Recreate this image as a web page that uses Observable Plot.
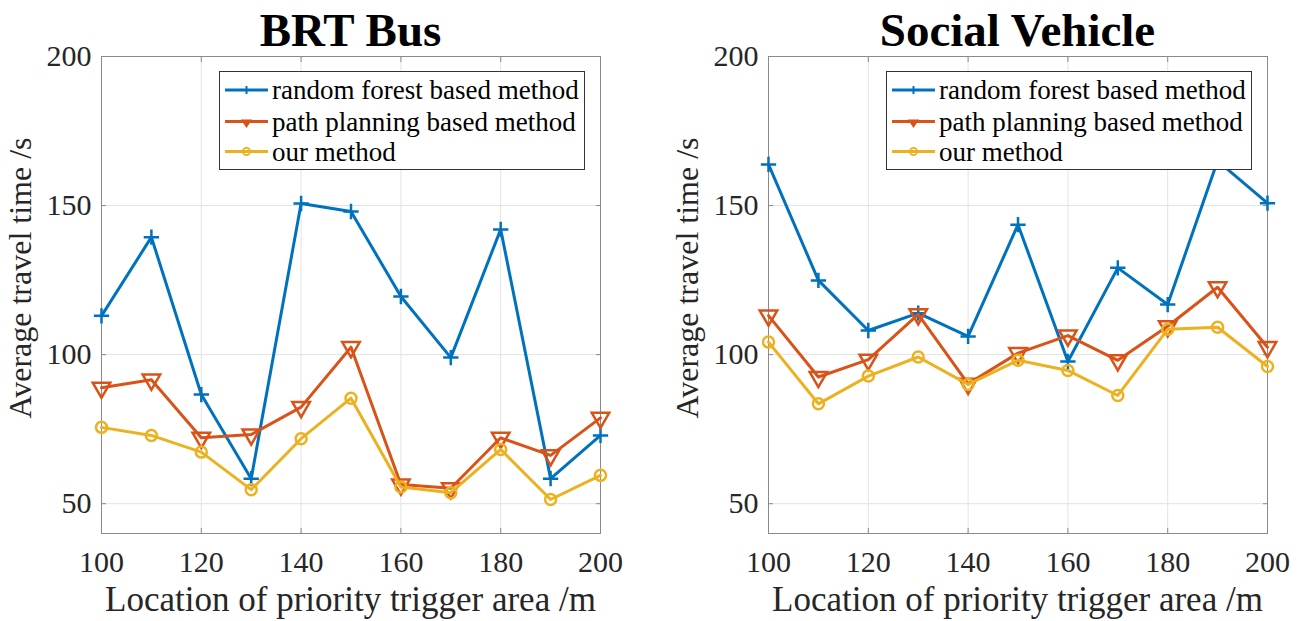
<!DOCTYPE html>
<html>
<head>
<meta charset="utf-8">
<script src="https://cdn.jsdelivr.net/npm/d3@7"></script>
<script src="https://cdn.jsdelivr.net/npm/@observablehq/plot@0.6"></script>
<style>
  body { margin: 0; background: #fff; }
  #wrap { position: relative; width: 1299px; height: 621px; overflow: hidden; background: #fff; }
  .panel { position: absolute; top: 0; }
  #overlay { position: absolute; left: 0; top: 0; pointer-events: none; }
  svg text { font-family: "Liberation Serif", "Times New Roman", serif; }
</style>
</head>
<body>
<div id="wrap"></div>
<script>
// ---- data ----
const locations = [100, 110, 120, 130, 140, 150, 160, 170, 180, 190, 200];
const methods = ["random forest based method", "path planning based method", "our method"];
const brtRandomForest   = [113.0, 139.4, 86.6, 58.4, 150.7, 148.0, 119.5, 99.0, 142.0, 58.4, 72.9];
const brtPathPlanning   = [88.9, 91.6, 72.1, 73.2, 82.4, 102.5, 56.4, 55.2, 72.1, 66.2, 78.8];
const brtOurMethod      = [75.6, 72.9, 67.3, 54.7, 71.8, 85.4, 55.6, 53.7, 68.2, 51.4, 59.5];
const socialRandomForest = [163.8, 124.9, 108.1, 113.9, 106.1, 143.6, 97.7, 129.1, 116.8, 165.0, 150.8];
const socialPathPlanning = [113.1, 92.5, 98.3, 113.5, 90.2, 100.5, 106.4, 98.1, 109.5, 122.6, 102.5];
const socialOurMethod    = [104.2, 83.5, 92.8, 99.2, 90.0, 98.1, 94.7, 86.3, 108.5, 109.2, 96.0];
const xTicks = [100, 120, 140, 160, 180, 200];
const yTicks = [50, 100, 150, 200];
const panelTitles = ["BRT Bus", "Social Vehicle"];
const xLabel = "Location of priority trigger area /m";
const yLabel = "Average travel time /s";

const colors = ["#0072BD", "#D95319", "#EDB120"];
const symbols = ["plus", "triangle", "circle"];

const H = 621, MT = 56, MB = 88;
const panels = [
  {left: 0, width: 650, marginLeft: 101, marginRight: 50, series: [brtRandomForest, brtPathPlanning, brtOurMethod]},
  {left: 650, width: 649, marginLeft: 118, marginRight: 32, series: [socialRandomForest, socialPathPlanning, socialOurMethod]}
];

const wrap = document.getElementById("wrap");
const frameGray = "#8a8a8a";
const fontFam = "Liberation Serif, Times New Roman, serif";

panels.forEach((p) => {
  const seriesMarks = [];
  p.series.forEach((vals, i) => {
    const rows = locations.map((x, j) => ({x, y: vals[j]}));
    seriesMarks.push(Plot.line(rows, {x: "x", y: "y", stroke: colors[i], strokeWidth: 3}));
    seriesMarks.push(Plot.dot(rows, {
      x: "x", y: "y", symbol: symbols[i], stroke: colors[i], fill: "none",
      strokeWidth: i === 0 ? 2.5 : 2.5,
      r: i === 0 ? 5 : (i === 1 ? 6.5 : 5.5),
      rotate: i === 1 ? 180 : 0
    }));
  });
  const chart = Plot.plot({
    width: p.width, height: H,
    marginLeft: p.marginLeft, marginRight: p.marginRight, marginTop: MT, marginBottom: MB,
    x: {domain: [100, 200]},
    y: {domain: [40, 200]},
    style: {fontFamily: fontFam, fontSize: "30px", color: "#262626", background: "#fff", overflow: "visible"},
    marks: [
      Plot.gridX(xTicks, {stroke: "#e3e3e3", strokeOpacity: 1}),
      Plot.gridY(yTicks, {stroke: "#e3e3e3", strokeOpacity: 1}),
      Plot.axisX(xTicks, {anchor: "bottom", tickSize: -5, tickFormat: () => "", label: null, stroke: frameGray}),
      Plot.axisX(xTicks, {anchor: "top", tickSize: -5, tickFormat: () => "", label: null, stroke: frameGray}),
      Plot.axisY(yTicks, {anchor: "left", tickSize: -5, tickFormat: () => "", label: null, stroke: frameGray}),
      Plot.axisY(yTicks, {anchor: "right", tickSize: -5, tickFormat: () => "", label: null, stroke: frameGray}),
      Plot.axisX(xTicks, {anchor: "bottom", tickSize: 0, tickPadding: 17, label: null, fill: "#262626", fontSize: 30}),
      Plot.axisY(yTicks, {anchor: "left", tickSize: 0, tickPadding: 10, label: null, fill: "#262626", fontSize: 30}),
      Plot.frame({stroke: frameGray, strokeWidth: 1}),
      ...seriesMarks
    ]
  });
  chart.classList.add("panel");
  chart.style.left = p.left + "px";
  wrap.appendChild(chart);
});

// ---- overlay: titles, axis labels, legends ----
const ov = d3.select(wrap).append("svg").attr("id", "overlay").attr("width", 1299).attr("height", H);

panels.forEach((p, k) => {
  const fx0 = p.left + p.marginLeft, fx1 = p.left + p.width - p.marginRight;
  const cx = (fx0 + fx1) / 2;
  ov.append("text").attr("x", cx).attr("y", 46).attr("text-anchor", "middle")
    .attr("font-weight", "bold").attr("font-size", 47).attr("fill", "#000").text(panelTitles[k]);
  ov.append("text").attr("x", cx).attr("y", 611).attr("text-anchor", "middle")
    .attr("font-size", 35).attr("fill", "#262626").text(xLabel);
  ov.append("text").attr("transform", `translate(${fx0 - 70},278) rotate(-90)`).attr("text-anchor", "middle")
    .attr("font-size", 32).attr("fill", "#262626").text(yLabel);

  // legend
  const lx = fx0 + 118, ly = 71, lw = 365, lh = 98;
  const g = ov.append("g").attr("transform", `translate(${lx},${ly})`);
  g.append("rect").attr("x", 0.5).attr("y", 0.5).attr("width", lw).attr("height", lh)
    .attr("fill", "#fff").attr("stroke", "#333").attr("stroke-width", 1);
  const rowY = [19, 50.5, 80.5];
  methods.forEach((m, i) => {
    const y = rowY[i];
    g.append("line").attr("x1", 6).attr("x2", 49).attr("y1", y).attr("y2", y)
      .attr("stroke", colors[i]).attr("stroke-width", 3);
    const mx = 27.5;
    if (i === 0) {
      g.append("path").attr("d", `M${mx - 4},${y}h8M${mx},${y - 4}v8`).attr("stroke", colors[i]).attr("stroke-width", 2);
    } else if (i === 1) {
      g.append("path").attr("d", `M${mx - 4},${y - 1}L${mx + 4},${y - 1}L${mx},${y + 5}Z`)
        .attr("stroke", colors[i]).attr("stroke-width", 1.8).attr("fill", colors[i]);
    } else {
      g.append("circle").attr("cx", mx).attr("cy", y).attr("r", 3.6)
        .attr("stroke", colors[i]).attr("stroke-width", 1.8).attr("fill", "none");
    }
    g.append("text").attr("x", 53).attr("y", y + 9).attr("font-size", 27).attr("fill", "#000").text(m);
  });
});
</script>
</body>
</html>
